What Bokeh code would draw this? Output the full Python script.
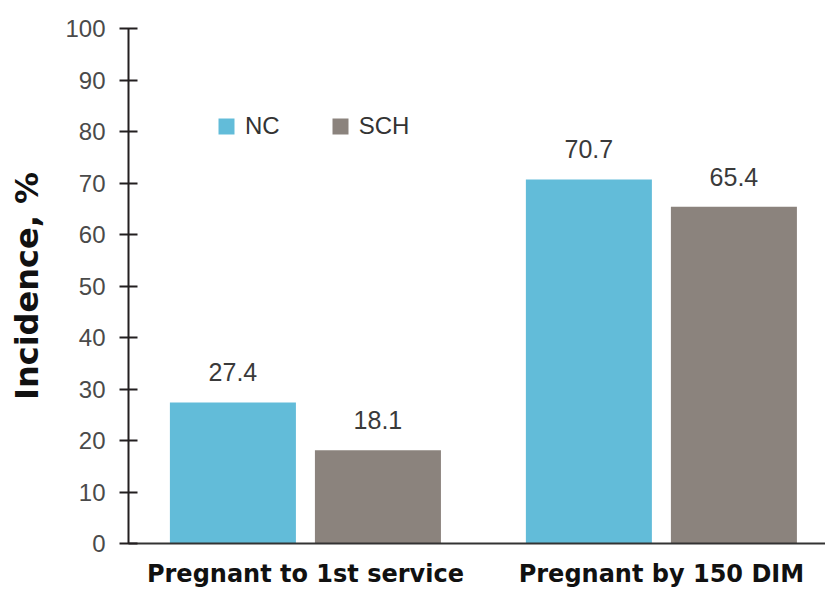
from bokeh.plotting import figure
from bokeh.models import ColumnDataSource, Range1d, FixedTicker, Legend, LegendItem
from bokeh.transform import dodge
from bokeh.core.properties import value
from bokeh.embed import file_html
from bokeh.resources import INLINE

# ---- data ----
groups = ["Pregnant to 1st service", "Pregnant by 150 DIM"]
group_pos = [1, 2]
nc = [27.4, 70.7]
sch = [18.1, 65.4]
series_names = ["NC", "SCH"]
y_ticks = [0, 10, 20, 30, 40, 50, 60, 70, 80, 90, 100]
y_title = "Incidence, %"

NC_COLOR = "#62bcd9"
SCH_COLOR = "#8b837d"

src = ColumnDataSource(dict(
    x=group_pos,
    nc=nc,
    sch=sch,
    nc_lbl=[f"{v:.1f}" for v in nc],
    sch_lbl=[f"{v:.1f}" for v in sch],
))

p = figure(width=825, height=590, output_backend="svg", toolbar_location=None,
           x_range=Range1d(0.503, 2.461), y_range=Range1d(0, 100),
           min_border_left=128, min_border_right=0, min_border_top=28,
           min_border_bottom=47)
p.outline_line_color = None
p.grid.visible = False
p.background_fill_color = "white"
p.border_fill_color = "white"

off = 0.2037
bw = 0.354
r_nc = p.vbar(x=dodge("x", -off), top="nc", width=bw, source=src,
              fill_color=NC_COLOR, line_color=None)
r_sch = p.vbar(x=dodge("x", off), top="sch", width=bw, source=src,
               fill_color=SCH_COLOR, line_color=None)

for col, lbl, o in (("nc", "nc_lbl", -off), ("sch", "sch_lbl", off)):
    p.text(x=dodge("x", o), y=col, text=lbl, source=src,
           text_align="center", text_baseline="alphabetic", y_offset=-30,
           text_font=value("Liberation Sans"), text_font_size="25px",
           text_color="#3a3a3a")

# y axis
ya = p.yaxis[0]
ya.ticker = FixedTicker(ticks=y_ticks)
ya.minor_tick_line_color = None
ya.major_tick_in = 9
ya.major_tick_out = 9
ya.major_tick_line_width = 2
ya.major_tick_line_color = "#231f20"
ya.axis_line_width = 2
ya.axis_line_color = "#231f20"
ya.major_label_standoff = 14
ya.major_label_text_font = "Liberation Sans"
ya.major_label_text_font_size = "24px"
ya.major_label_text_color = "#4a4a4a"
ya.axis_label = y_title
ya.axis_label_text_font = "DejaVu Sans"
ya.axis_label_text_font_style = "bold"
ya.axis_label_text_font_size = "32px"
ya.axis_label_text_color = "#111111"
ya.axis_label_standoff = 16

# x axis
xa = p.xaxis[0]
xa.ticker = FixedTicker(ticks=group_pos)
xa.major_label_overrides = {g: name for g, name in zip(group_pos, groups)}
xa.major_tick_line_color = None
xa.major_tick_out = 0
xa.major_tick_in = 0
xa.minor_tick_line_color = None
xa.axis_line_width = 2
xa.axis_line_color = "#333333"
xa.major_label_standoff = 16
xa.major_label_text_font = "DejaVu Sans"
xa.major_label_text_font_style = "bold"
xa.major_label_text_font_size = "24px"
xa.major_label_text_color = "#111111"

legend = Legend(items=[LegendItem(label=series_names[0], renderers=[r_nc]),
                       LegendItem(label=series_names[1], renderers=[r_sch])],
                location=(88, 403), orientation="horizontal",
                glyph_width=20, glyph_height=20, label_standoff=9,
                spacing=50, padding=0, margin=0, label_height=20,
                border_line_color=None, background_fill_alpha=0,
                label_text_font="Liberation Sans", label_text_font_size="24px",
                label_text_color="#333333")
p.add_layout(legend)

open("out.html", "w").write(file_html(p, INLINE))
